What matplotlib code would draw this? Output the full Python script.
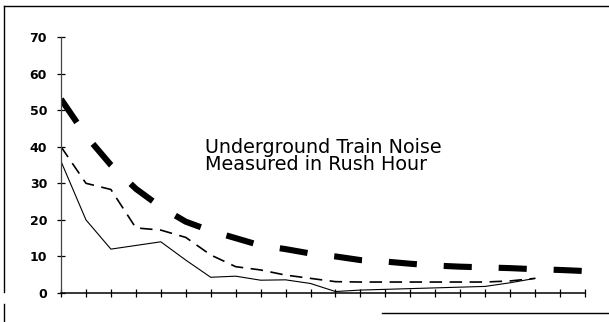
import matplotlib
matplotlib.use("Agg")
import matplotlib.pyplot as plt
from matplotlib.lines import Line2D

# ---- data ----
x_ticks = list(range(22))
y_ticks = [0, 10, 20, 30, 40, 50, 60, 70]

series_thick = [53, 43, 35, 28.5, 23.5, 19.5, 17, 15, 13, 12, 10.8, 10, 9,
                8.6, 8, 7.5, 7.2, 7, 6.8, 6.5, 6.3, 6]
series_dashed = [40, 30, 28.3, 17.8, 17.2, 15.2, 10.4, 7.2, 6.3, 4.9, 4, 3.1,
                 3, 3, 3, 3, 3, 3, 3.3, 4]
series_solid = [36, 20, 12, 13, 14, 9, 4.3, 4.6, 3.5, 3.6, 2.6, 0.4, 0.8,
                1.0, 1.2, 1.4, 1.6, 1.8, 2.8, 4]

title_text = "Underground Train Noise\nMeasured in Rush Hour"

W, H = 609, 322
fig = plt.figure(figsize=(W / 100, H / 100), dpi=100)
ax = fig.add_axes([61 / W, (H - 293) / H, (585 - 61) / W, (293 - 37) / H])

ax.plot(range(len(series_thick)), series_thick, color="black", lw=4.4,
        dashes=(4.6, 4.4), dash_capstyle="butt", solid_capstyle="butt")
ax.plot(range(len(series_dashed)), series_dashed, color="black", lw=1.2,
        dashes=(7.5, 4.5), dash_capstyle="butt")
ax.plot(range(len(series_solid)), series_solid, color="black", lw=0.8)

ax.set_xlim(0, 21)
ax.set_ylim(0, 70)
ax.set_xticks(x_ticks)
ax.set_xticklabels([])
ax.set_yticks(y_ticks)
ax.set_yticklabels([str(v) for v in y_ticks], fontsize=9, fontweight="bold",
                   family="DejaVu Sans")
for s in ("top", "right"):
    ax.spines[s].set_visible(False)
ax.spines["left"].set_linewidth(0.9)
ax.spines["left"].set_color("#444444")
ax.spines["bottom"].set_linewidth(1.1)
ax.tick_params(axis="both", direction="inout", length=6, width=0.9,
               color="black")
ax.tick_params(axis="y", pad=7)
ax.set_facecolor("none")

fig.text(205 / W, 1 - 138 / H, title_text, ha="left", va="top",
         fontsize=13.8, family="DejaVu Sans", linespacing=0.85)

# scanned page border fragments
def fl(x0, y0, x1, y1, lw=1.0):
    fig.add_artist(Line2D([x0 / W, x1 / W], [1 - y0 / H, 1 - y1 / H],
                          transform=fig.transFigure, color="black", lw=lw))

fl(4, 6, 609, 6, 1.0)
fl(4, 6, 4, 292, 1.0)
fl(4, 304, 4, 322, 1.0)
fl(382, 313, 609, 313, 1.0)

fig.savefig("out.png", dpi=100)
